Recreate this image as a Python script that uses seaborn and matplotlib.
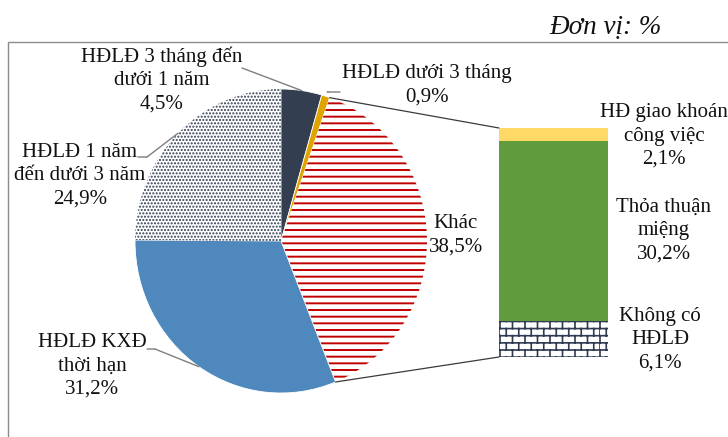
import warnings
import numpy as np
import matplotlib
matplotlib.use("Agg")
import matplotlib.pyplot as plt
import matplotlib.hatch as mhatch
from matplotlib.path import Path
from matplotlib.patches import ConnectionPatch, Rectangle
import seaborn as sns

warnings.filterwarnings("ignore")

# ---------------- data ----------------
pie_labels = ["HĐLĐ 3 tháng đến\ndưới 1 năm", "HĐLĐ dưới 3 tháng", "Khác",
              "HĐLĐ KXĐ\nthời hạn", "HĐLĐ 1 năm\nđến dưới 3 năm"]
pie_values = [4.5, 0.9, 38.5, 31.2, 24.9]
bar_labels = ["Không có\nHĐLĐ", "Thỏa thuận\nmiệng", "HĐ giao khoán\ncông việc"]
bar_values = [6.1, 30.2, 2.1]
unit_label = "Đơn vị: %"


def fmt(v):
    return f"{v:.1f}".replace(".", ",") + "%"


# ---------------- custom hatches ----------------
class StripeHatch(mhatch.HatchPatternBase):
    def __init__(self, hatch, density):
        self.num_lines = int(hatch.count('h') * 15)
        self.num_vertices = self.num_lines * 2

    def set_vertices_and_codes(self, vertices, codes):
        steps, st = np.linspace(0.0, 1.0, self.num_lines, endpoint=False, retstep=True)
        steps = steps + st / 2
        vertices[0::2, 0] = 0.0
        vertices[0::2, 1] = steps
        vertices[1::2, 0] = 1.0
        vertices[1::2, 1] = steps
        codes[0::2] = Path.MOVETO
        codes[1::2] = Path.LINETO


class BrickHatch(mhatch.HatchPatternBase):
    rows = 14
    cols = 8

    def __init__(self, hatch, density):
        self.on = hatch.count('b') > 0
        self.num_vertices = (self.rows * 2 + self.rows * (self.cols + 1) * 2) if self.on else 0

    def set_vertices_and_codes(self, vertices, codes):
        n, m = self.rows, self.cols
        k = 0
        for i in range(n):
            y0 = i / n
            vertices[k] = (0.0, y0); codes[k] = Path.MOVETO; k += 1
            vertices[k] = (1.0, y0); codes[k] = Path.LINETO; k += 1
            off = 0.5 * (i % 2)
            for j in range(m + 1):
                x = min((j + off) / m, 1.0)
                vertices[k] = (x, y0); codes[k] = Path.MOVETO; k += 1
                vertices[k] = (x, y0 + 1 / n); codes[k] = Path.LINETO; k += 1


mhatch._hatch_types.append(StripeHatch)
mhatch._hatch_types.append(BrickHatch)

# ---------------- style ----------------
sns.set_theme(style="white")
plt.rcParams['font.family'] = ['Liberation Serif', 'DejaVu Serif']
plt.rcParams['hatch.linewidth'] = 1.4

W, H = 728, 437
fig = plt.figure(figsize=(W / 100, H / 100), dpi=100)
fig.patch.set_facecolor("white")


def fx(px):
    return px / W


def fy(py):  # py from top
    return 1 - py / H


def set_hlw(patch, lw):
    if hasattr(patch, "set_hatch_linewidth"):
        patch.set_hatch_linewidth(lw)
    else:
        patch._hatch_linewidth = lw


# frame
fig.add_artist(Rectangle((fx(8), -0.05), 1.2, fy(42) + 0.05, transform=fig.transFigure,
                         facecolor="none", edgecolor="#8c8c8c", lw=1.0))

# ---------------- pie ----------------
cx, cy, rx, ry = 281, 241, 146, 152
ax = fig.add_axes([fx(cx - rx), fy(cy + ry), 2 * rx / W, 2 * ry / H])
pie_colors = ["#333F50", "#E0A400", "white", "#4E88BD", "white"]
pie_hatch_col = [None, None, "#C00000", None, "#2F3B52"]
pie_hatches = [None, None, "h", None, "....."]
pie_hatch_lw = [None, None, 1.4, None, 1.0]
wedges, _ = ax.pie(pie_values, startangle=90, counterclock=False, radius=1,
                   colors=pie_colors)
for w, hc, ht, hl in zip(wedges, pie_hatch_col, pie_hatches, pie_hatch_lw):
    if ht:
        w.set_facecolor("white")
        w.set_edgecolor(hc)
        w.set_hatch(ht)
        w.set_linewidth(0)
        set_hlw(w, hl)
    else:
        w.set_edgecolor("white")
        w.set_linewidth(0.6)
ax.set_aspect("auto")
ax.set_xlim(-1, 1)
ax.set_ylim(-1, 1)
ax.axis("off")

# ---------------- bar ----------------
bx0, bx1, by0, by1 = 499, 608, 128, 357
bax = fig.add_axes([fx(bx0), fy(by1), (bx1 - bx0) / W, (by1 - by0) / H])
bar_colors = ["white", "#609B3E", "#FFD966"]
bar_edge = ["#2F3B52", "#609B3E", "#FFD966"]
bar_hatches = ["b", None, None]
bottoms = np.concatenate([[0], np.cumsum(bar_values)[:-1]])
for v, b, c, e, h in zip(bar_values, bottoms, bar_colors, bar_edge, bar_hatches):
    bars = bax.bar(0, v, bottom=b, width=1, color=c, edgecolor=e, hatch=h, linewidth=0)
    if h:
        for p in bars:
            set_hlw(p, 1.2)
bax.set_xlim(-0.5, 0.5)
bax.set_ylim(0, sum(bar_values))
bax.axis("off")

# connectors between Khác wedge and bar
kw = wedges[2]
total = sum(bar_values)
for ang, yb in [(kw.theta2, total), (kw.theta1, 0)]:
    p = (np.cos(np.radians(ang)), np.sin(np.radians(ang)))
    con = ConnectionPatch(xyA=p, coordsA=ax.transData, xyB=(-0.5, yb), coordsB=bax.transData,
                          color="#3a3a3a", lw=0.9)
    fig.add_artist(con)

# ---------------- labels ----------------
FS = 15
LS = 1.3
TXT = "#111111"
pie_label_pos = {0: (162, 80), 1: (427, 85), 2: (456, 235), 3: (92, 366), 4: (80, 176)}
for i, (x, y) in pie_label_pos.items():
    fig.text(fx(x), fy(y), f"{pie_labels[i]}\n{fmt(pie_values[i])}", ha="center", va="center",
             fontsize=FS, color=TXT, linespacing=LS, multialignment="center")

bar_label_pos = {2: (664, 136), 1: (664, 231), 0: (660, 340)}
for i, (x, y) in bar_label_pos.items():
    fig.text(fx(x), fy(y), f"{bar_labels[i]}\n{fmt(bar_values[i])}", ha="center", va="center",
             fontsize=FS, color=TXT, linespacing=LS, multialignment="center")

fig.text(fx(662), fy(27), unit_label, ha="right", va="center", fontsize=19.5,
         style="italic", color=TXT)

# leader lines: (wedge index -> anchor points in pixels, top-based)
leaders = {
    0: [(242, 68)],
    1: [(340, 92), (328, 92)],
    3: [(147, 349), (155, 349)],
    4: [(138, 157), (147, 157)],
}
for i, pts in leaders.items():
    w = wedges[i]
    mid = np.radians((w.theta1 + w.theta2) / 2)
    rr = 1.03 if i == 1 else 1.0
    p = (rr * np.cos(mid), rr * np.sin(mid))
    pix = [(x, H - y) for x, y in pts]
    for a, b in zip(pix[:-1], pix[1:]):
        fig.add_artist(ConnectionPatch(xyA=a, coordsA="figure pixels", xyB=b,
                                       coordsB="figure pixels", color="#7f7f7f", lw=1.0))
    fig.add_artist(ConnectionPatch(xyA=pix[-1], coordsA="figure pixels", xyB=p,
                                   coordsB=ax.transData, color="#7f7f7f", lw=1.0))

fig.savefig("out.png", dpi=100, facecolor="white")
